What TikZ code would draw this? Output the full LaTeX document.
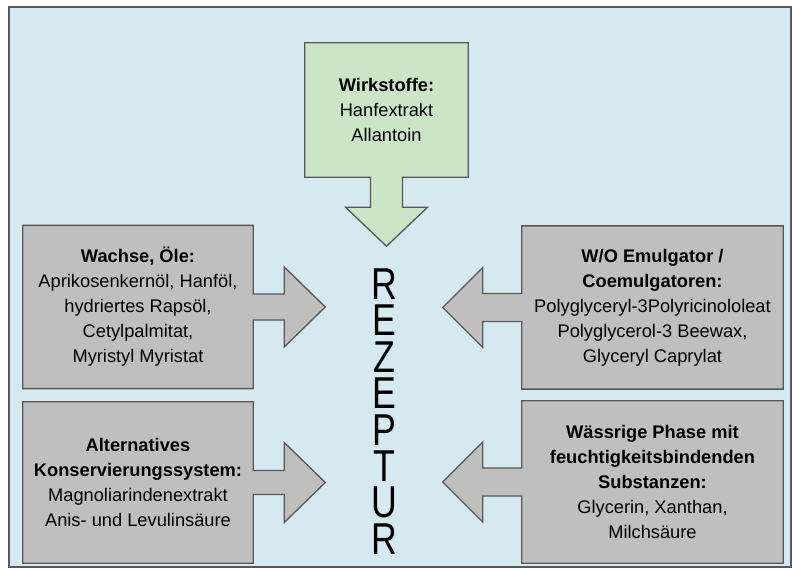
\documentclass[tikz,border=0pt]{standalone}
\usepackage{fontspec}
\setmainfont{Liberation Sans}
\newfontfamily\narrowfont[FakeStretch=0.8]{Liberation Sans}
\usetikzlibrary{calc,backgrounds}

\definecolor{bgblue}{RGB}{214,233,241}
\definecolor{boxgreen}{RGB}{204,229,199}
\definecolor{boxgray}{RGB}{191,191,191}
\definecolor{edgegray}{RGB}{88,88,88}

\begin{document}
\begin{tikzpicture}[
  x=0.75pt, y=-0.75pt,
  box/.style={align=center, inner sep=0pt, font=\fontsize{13.7}{18.75}\selectfont},
  leftbox/.style={box, minimum width=172.5pt, minimum height=122pt},
  rightbox/.style={box, minimum width=195.75pt, minimum height=122pt},
  outline/.style={draw=edgegray, line width=1pt, line join=miter}
]
\useasboundingbox (0,0) rectangle (801,571);

\node[box, minimum width=122.25pt, minimum height=100.5pt] (wirk) at (386.5,110) {\textbf{Wirkstoffe:}\\Hanfextrakt\\Allantoin};
\node[leftbox] (wachs) at (138,307) {\textbf{Wachse, Öle:}\\Aprikosenkernöl, Hanföl,\\hydriertes Rapsöl,\\Cetylpalmitat,\\Myristyl Myristat};
\node[leftbox, minimum height=120.75pt] (konserv) at (138,482.5) {\textbf{Alternatives}\\\textbf{Konservierungssystem:}\\Magnoliarindenextrakt\\Anis- und Levulinsäure};
\node[rightbox] (emul) at (652.5,307.5) {\textbf{W/O Emulgator /}\\\textbf{Coemulgatoren:}\\Polyglyceryl-3Polyricinololeat\\Polyglycerol-3 Beewax,\\Glyceryl Caprylat};
\node[rightbox, minimum height=121.5pt] (wasser) at (652.5,482) {\textbf{Wässrige Phase mit}\\\textbf{feuchtigkeitsbindenden}\\\textbf{Substanzen:}\\Glycerin, Xanthan,\\Milchsäure};

\node[align=center, inner sep=0pt, font=\narrowfont\fontsize{33.5}{27.3}\selectfont] (rez) at (384,411.5) {R\\E\\Z\\E\\P\\T\\U\\R};

\begin{pgfonlayer}{background}
\fill[white] (0,0) rectangle (801,571);
\filldraw[draw=edgegray, fill=bgblue, line width=1pt] (9,7) rectangle (791,567);

% box and block arrow as one outline
\filldraw[outline, fill=boxgreen] (wirk.south west) -- (wirk.north west) -- (wirk.north east) -- (wirk.south east)
  -- ($(wirk.south)+(16,0)$) -- ($(wirk.south)+(16,30)$) -- ($(wirk.south)+(41,30)$) -- ($(wirk.south)+(0,69)$)
  -- ($(wirk.south)+(-41,30)$) -- ($(wirk.south)+(-16,30)$) -- ($(wirk.south)+(-16,0)$) -- cycle;

\filldraw[outline, fill=boxgray] (wachs.north west) -- (wachs.north east) -- ($(wachs.east)+(0,-13)$)
  -- ($(wachs.east)+(31,-13)$) -- ($(wachs.east)+(31,-40)$) -- ($(wachs.east)+(72,0)$) -- ($(wachs.east)+(31,40)$)
  -- ($(wachs.east)+(31,13)$) -- ($(wachs.east)+(0,13)$) -- (wachs.south east) -- (wachs.south west) -- cycle;

\filldraw[outline, fill=boxgray] (konserv.north west) -- (konserv.north east) -- ($(konserv.east)+(0,-12)$)
  -- ($(konserv.east)+(31,-12)$) -- ($(konserv.east)+(31,-40)$) -- ($(konserv.east)+(72,0)$) -- ($(konserv.east)+(31,40)$)
  -- ($(konserv.east)+(31,12)$) -- ($(konserv.east)+(0,12)$) -- (konserv.south east) -- (konserv.south west) -- cycle;

\filldraw[outline, fill=boxgray] (emul.north east) -- (emul.north west) -- ($(emul.west)+(0,-14)$)
  -- ($(emul.west)+(-39,-14)$) -- ($(emul.west)+(-39,-40)$) -- ($(emul.west)+(-79,0)$) -- ($(emul.west)+(-39,40)$)
  -- ($(emul.west)+(-39,14)$) -- ($(emul.west)+(0,14)$) -- (emul.south west) -- (emul.south east) -- cycle;

\filldraw[outline, fill=boxgray] (wasser.north east) -- (wasser.north west) -- ($(wasser.west)+(0,-14)$)
  -- ($(wasser.west)+(-39,-14)$) -- ($(wasser.west)+(-39,-40)$) -- ($(wasser.west)+(-79,0)$) -- ($(wasser.west)+(-39,40)$)
  -- ($(wasser.west)+(-39,14)$) -- ($(wasser.west)+(0,14)$) -- (wasser.south west) -- (wasser.south east) -- cycle;
\end{pgfonlayer}
\end{tikzpicture}
\end{document}
